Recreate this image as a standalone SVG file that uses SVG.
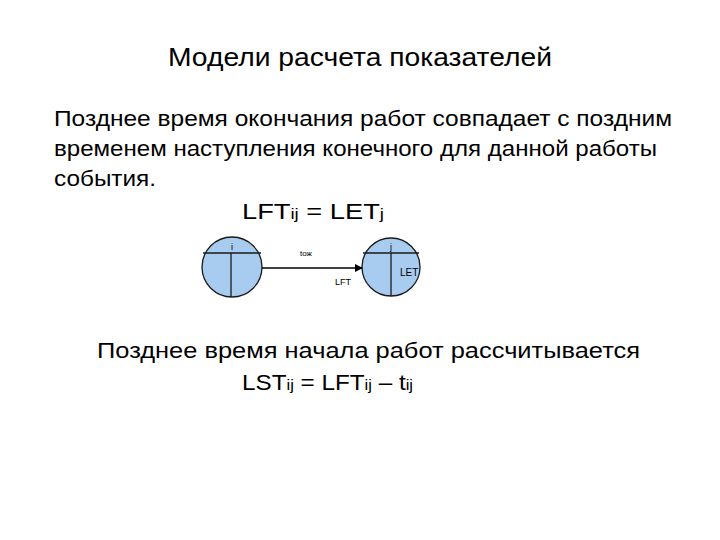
<svg xmlns="http://www.w3.org/2000/svg" width="720" height="540" viewBox="0 0 720 540">
<style>
.t{font-family:"Liberation Sans",Arial,sans-serif;fill:#000}
.c{fill:#a8cbf0;stroke:#1a1a1a;stroke-width:1.3}
.l{stroke:#1a1a1a;stroke-width:1.3}
</style>
<defs><marker id="a" markerWidth="8" markerHeight="8" refX="7" refY="4" orient="auto" markerUnits="userSpaceOnUse"><path d="M0,0L8,4L0,8z" fill="#000"/></marker></defs>
<rect width="720" height="540" fill="#fff"/>
<text class="t" x="168" y="66" font-size="25" textLength="384" lengthAdjust="spacingAndGlyphs">Модели расчета показателей</text>
<text class="t" x="54" y="126" font-size="22" textLength="618" lengthAdjust="spacingAndGlyphs">Позднее время окончания работ совпадает с поздним</text>
<text class="t" x="54" y="156" font-size="22" textLength="603" lengthAdjust="spacingAndGlyphs">временем наступления конечного для данной работы</text>
<text class="t" x="54" y="186" font-size="22" textLength="102" lengthAdjust="spacingAndGlyphs">события.</text>
<text class="t" x="242" y="219" font-size="22" textLength="142" lengthAdjust="spacingAndGlyphs">LFT<tspan font-size="15">ij</tspan> = LET<tspan font-size="15">j</tspan></text>
<g id="node-i">
<circle class="c" cx="232" cy="267" r="30"/>
<line class="l" x1="203" y1="253" x2="261" y2="253"/>
<line class="l" x1="231" y1="253" x2="231" y2="297"/>
<text class="t" x="232" y="250" font-size="9" text-anchor="middle">i</text>
</g>
<g id="node-j">
<circle class="c" cx="391" cy="267" r="29"/>
<line class="l" x1="363" y1="253" x2="419" y2="253"/>
<line class="l" x1="391" y1="253" x2="391" y2="296"/>
<text class="t" x="391" y="250" font-size="9" text-anchor="middle">j</text>
<text class="t" x="400" y="276" font-size="10">LET</text>
</g>
<g id="connectors">
<line x1="262" y1="268" x2="362" y2="268" stroke="#000" stroke-width="1.5" marker-end="url(#a)"/>
<text class="t" x="300" y="256" font-size="8">tож</text>
<text class="t" x="335" y="285" font-size="9">LFT</text>
</g>
<text class="t" x="97" y="358" font-size="22" textLength="543" lengthAdjust="spacingAndGlyphs">Позднее время начала работ рассчитывается</text>
<text class="t" x="242" y="390" font-size="22" textLength="171" lengthAdjust="spacingAndGlyphs">LST<tspan font-size="15">ij</tspan> = LFT<tspan font-size="15">ij</tspan> – t<tspan font-size="15">ij</tspan></text>
</svg>
